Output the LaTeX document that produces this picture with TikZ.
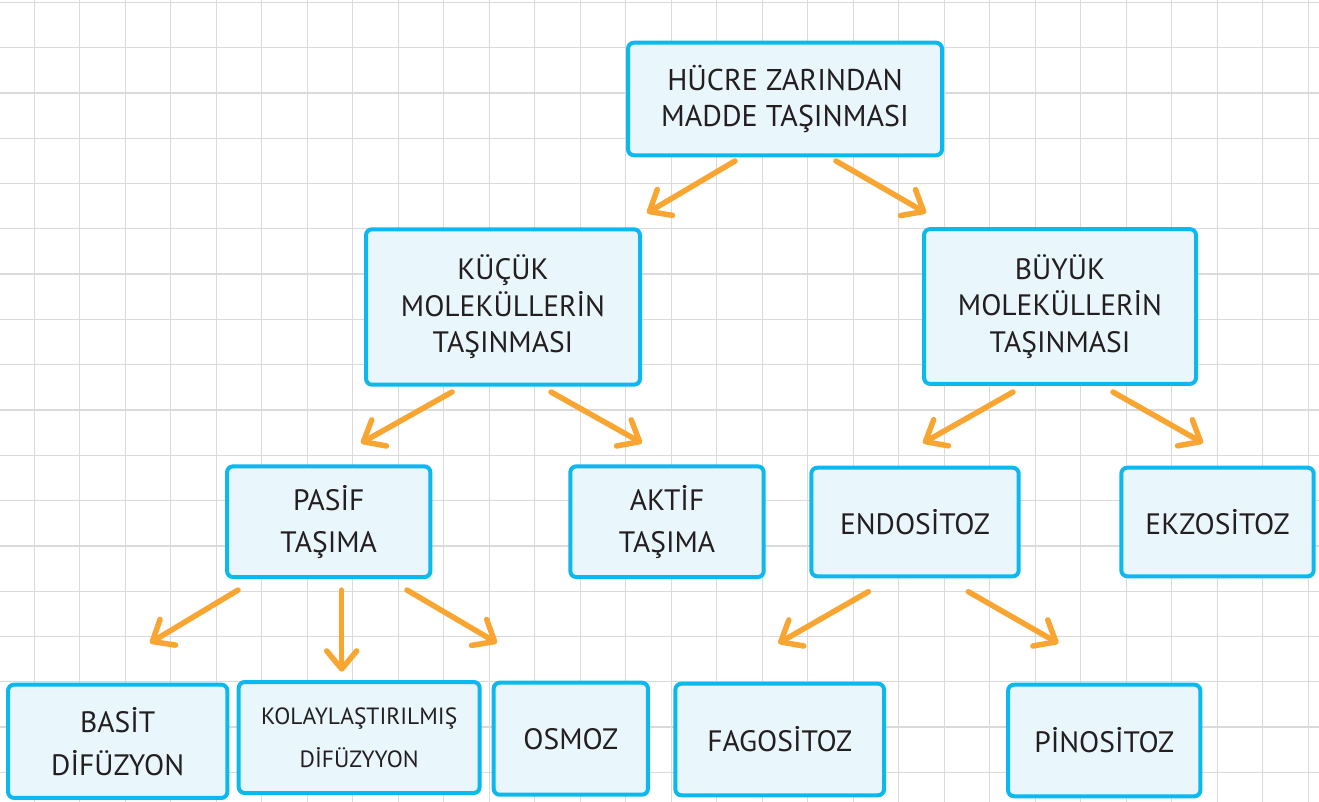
\documentclass[tikz,border=0pt]{standalone}
\usepackage{fontspec}
\setmainfont{PT Sans}
\usetikzlibrary{arrows.meta,calc}

\definecolor{gridgray}{HTML}{DADADA}
\definecolor{boxline}{HTML}{0CB9EF}
\definecolor{boxfill}{HTML}{E9F6FC}
\definecolor{arrowcol}{HTML}{F8A532}
\definecolor{ink}{HTML}{231F20}

\begin{document}
\begin{tikzpicture}[x=1pt,y=-1pt,
  gridline/.style={draw=gridgray,line width=1.3pt},
  box/.style={draw=boxline,fill=boxfill,line width=4pt,rounded corners=6pt,
    outer sep=0pt,inner sep=0pt,align=center,text=ink,
    font=\fontsize{29.5}{37}\selectfont},
  link/.style={draw=arrowcol,line width=5.5pt,line cap=round,line join=round,
    -{Straight Barb[length=18pt,width=30pt,line cap=round,line join=round]}},
]
% page and squared paper
\useasboundingbox (0,0) rectangle (1319,802);
\fill[white] (0,0) rectangle (1319,802);
\foreach \i in {0,...,28}
  \draw[gridline] ({34.3+45.5*\i},0) -- ({34.3+45.5*\i},802);
\foreach \j in {0,...,17}
  \draw[gridline] (0,{2.3+45.3*\j}) -- (1319,{2.3+45.3*\j});

% root
\node[box,minimum width=314pt,minimum height=112.6pt,font=\fontsize{30}{36.7}\selectfont]
  (top) at (785,99) {HÜCRE ZARINDAN\\MADDE TAŞINMASI};

% second level
\node[box,minimum width=274pt,minimum height=155.4pt,font=\fontsize{29.5}{36.5}\selectfont]
  (kucuk) at (503,307) {KÜÇÜK\\MOLEKÜLLERİN\\TAŞINMASI};
\node[box,minimum width=272pt,minimum height=154.7pt,font=\fontsize{29.5}{36.5}\selectfont]
  (buyuk) at (1060,306.5) {BÜYÜK\\MOLEKÜLLERİN\\TAŞINMASI};

% third level
\node[box,minimum width=203.3pt,minimum height=110.7pt,font=\fontsize{29.5}{42}\selectfont]
  (pasif) at (328.7,521.7) {PASİF\\TAŞIMA};
\node[box,minimum width=193.4pt,minimum height=110.7pt,font=\fontsize{29.5}{42}\selectfont]
  (aktif) at (667,521.7) {AKTİF\\TAŞIMA};
\node[box,minimum width=207.4pt,minimum height=108.6pt]
  (endo) at (915,522) {ENDOSİTOZ};
\node[box,minimum width=192.4pt,minimum height=108.6pt]
  (ekzo) at (1217.5,522) {EKZOSİTOZ};

% fourth level
\node[box,minimum width=219.3pt,minimum height=113.3pt,font=\fontsize{29.5}{43}\selectfont]
  (basit) at (117.7,741.3) {BASİT\\DİFÜZYON};
\node[box,minimum width=241pt,minimum height=111pt,font=\fontsize{23.5}{43}\selectfont]
  (kolay) at (359.2,737.5) {KOLAYLAŞTIRILMIŞ\\DİFÜZYYON};
\node[box,minimum width=154.3pt,minimum height=112pt]
  (osmoz) at (570.8,738.7) {OSMOZ};
\node[box,minimum width=208.7pt,minimum height=111.6pt]
  (fago) at (779.7,739.5) {FAGOSİTOZ};
\node[box,minimum width=192.3pt,minimum height=111.6pt]
  (pino) at (1104.2,740.5) {PİNOSİTOZ};

% arrows
\draw[link] ($(top.south)+(-50,5.7)$) -- ($(kucuk.north)+(144,-16.3)$);
\draw[link] ($(top.south)+(51,5.7)$) -- ($(buyuk.north)+(-134,-16.2)$);
\draw[link] ($(kucuk.south)+(-51,7.3)$) -- ($(pasif.north)+(32.3,-23.3)$);
\draw[link] ($(kucuk.south)+(48,7.3)$) -- ($(aktif.north)+(-25,-23.3)$);
\draw[link] ($(buyuk.south)+(-47,8.2)$) -- ($(endo.north)+(8,-24.7)$);
\draw[link] ($(buyuk.south)+(53,8.2)$) -- ($(ekzo.north)+(-14.5,-24.7)$);
\draw[link] ($(pasif.south)+(-90.7,13)$) -- ($(basit.north)+(32.3,-41.7)$);
\draw[link] ($(pasif.south)+(13,13)$) -- ($(kolay.north)+(-17.5,-10.3)$);
\draw[link] ($(pasif.south)+(78.3,13)$) -- ($(osmoz.north)+(-73.8,-39.7)$);
\draw[link] ($(endo.south)+(-46.7,15.4)$) -- ($(fago.north)+(-1.4,-40.4)$);
\draw[link] ($(endo.south)+(53.3,15.4)$) -- ($(pino.north)+(-45.9,-41.4)$);
\end{tikzpicture}
\end{document}
